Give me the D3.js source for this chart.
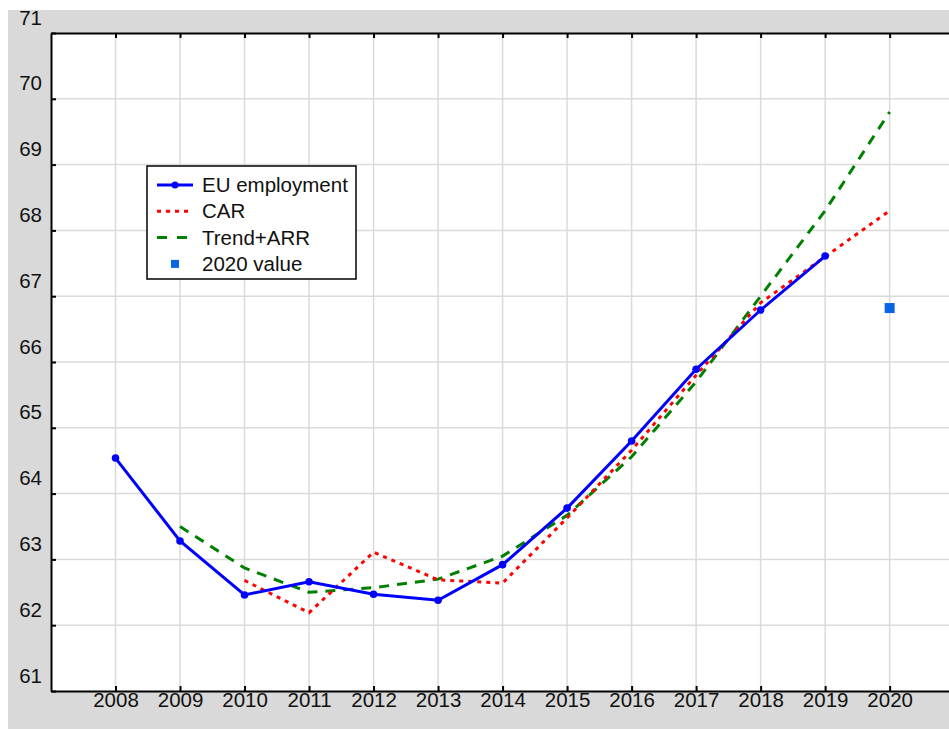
<!DOCTYPE html>
<html>
<head>
<meta charset="utf-8">
<script src="https://cdn.jsdelivr.net/npm/d3@7"></script>
<style>
  body { margin: 0; background: #ffffff; }
  text { font-family: Arial, "Liberation Sans", sans-serif; }
</style>
</head>
<body>
<svg id="chart" width="949" height="729"></svg>
<script>
// ---- data ----
const yearTicks = [2008, 2009, 2010, 2011, 2012, 2013, 2014, 2015, 2016, 2017, 2018, 2019, 2020];
const valueTicks = [61, 62, 63, 64, 65, 66, 67, 68, 69, 70, 71];
const euYears = [2008, 2009, 2010, 2011, 2012, 2013, 2014, 2015, 2016, 2017, 2018, 2019];
const euEmployment = [64.54, 63.28, 62.46, 62.66, 62.47, 62.38, 62.92, 63.78, 64.80, 65.89, 66.79, 67.61];
const carYears = [2010, 2011, 2012, 2013, 2014, 2015, 2016, 2017, 2018, 2019, 2020];
const carValues = [62.68, 62.19, 63.11, 62.69, 62.64, 63.63, 64.66, 65.80, 66.90, 67.60, 68.30];
const trendYears = [2009, 2010, 2011, 2012, 2013, 2014, 2015, 2016, 2017, 2018, 2019, 2020];
const trendValues = [63.50, 62.87, 62.50, 62.57, 62.70, 63.05, 63.67, 64.56, 65.70, 67.00, 68.30, 69.80];
const value2020Year = [2020];
const value2020 = [66.82];
const legendLabels = ["EU employment", "CAR", "Trend+ARR", "2020 value"];

// ---- layout ----
const svg = d3.select("#chart");
const L = 51, R = 949, T = 33, B = 691;
const FS = 20.5;

svg.append("rect").attr("x", 8).attr("y", 10).attr("width", 941).attr("height", 719).attr("fill", "#d9d9d9");
svg.append("rect").attr("x", L).attr("y", T).attr("width", R - L).attr("height", B - T).attr("fill", "#ffffff");

const x = d3.scaleLinear().domain([2007, 2020.92]).range([L, R]);
const y = d3.scaleLinear().domain([61, 71]).range([B, T]);

// grid
const grid = svg.append("g");
grid.selectAll("line.v").data(yearTicks).join("line")
  .attr("x1", d => x(d)).attr("x2", d => x(d)).attr("y1", T).attr("y2", B)
  .attr("stroke", "#dadada").attr("stroke-width", 1.5);
grid.selectAll("line.h").data(valueTicks.filter(v => v > 61 && v < 71)).join("line")
  .attr("x1", L).attr("x2", R).attr("y1", d => y(d)).attr("y2", d => y(d))
  .attr("stroke", "#dadada").attr("stroke-width", 1.5);

// axes
const axLeft = svg.append("g").attr("transform", `translate(${L},0)`)
  .call(d3.axisLeft(y).tickValues(valueTicks).tickFormat(d3.format("d")).tickSize(-5).tickSizeOuter(0).tickPadding(9));
axLeft.selectAll("text").attr("transform", "translate(0,-15.5)");

const axBottom = svg.append("g").attr("transform", `translate(0,${B})`)
  .call(d3.axisBottom(x).tickValues(yearTicks).tickFormat(d3.format("d")).tickSize(-5).tickSizeOuter(0).tickPadding(1));

const axTop = svg.append("g").attr("transform", `translate(0,${T})`)
  .call(d3.axisTop(x).tickValues(yearTicks).tickFormat("").tickSize(-5).tickSizeOuter(0));

[axLeft, axBottom, axTop].forEach(g => {
  g.select(".domain").attr("stroke", "#000").attr("stroke-width", 2);
  g.selectAll(".tick line").attr("stroke", "#000").attr("stroke-width", 2);
  g.selectAll("text").attr("font-size", FS).attr("fill", "#111").attr("font-family", "Arial, 'Liberation Sans', sans-serif");
});

// lines
const line = d3.line().x(d => x(d[0])).y(d => y(d[1]));

svg.append("path").datum(d3.zip(trendYears, trendValues))
  .attr("d", line).attr("fill", "none").attr("stroke", "#008000").attr("stroke-width", 3)
  .attr("stroke-dasharray", "10,8");

svg.append("path").datum(d3.zip(carYears, carValues))
  .attr("d", line).attr("fill", "none").attr("stroke", "#ff0000").attr("stroke-width", 3)
  .attr("stroke-dasharray", "4,5");

svg.append("path").datum(d3.zip(euYears, euEmployment))
  .attr("d", line).attr("fill", "none").attr("stroke", "#0000ff").attr("stroke-width", 3);
svg.selectAll("circle.eu").data(d3.zip(euYears, euEmployment)).join("circle")
  .attr("cx", d => x(d[0])).attr("cy", d => y(d[1])).attr("r", 3.8).attr("fill", "#0000ff");

svg.selectAll("rect.v2020").data(d3.zip(value2020Year, value2020)).join("rect")
  .attr("x", d => x(d[0]) - 5).attr("y", d => y(d[1]) - 5).attr("width", 10).attr("height", 10)
  .attr("fill", "#0a64e6");

// legend
const lg = svg.append("g");
lg.append("rect").attr("x", 147).attr("y", 166).attr("width", 209).attr("height", 113)
  .attr("fill", "#fff").attr("stroke", "#000").attr("stroke-width", 1.5);
const rowY = i => 185 + i * 26.3;
lg.append("line").attr("x1", 157).attr("x2", 193).attr("y1", rowY(0)).attr("y2", rowY(0))
  .attr("stroke", "#0000ff").attr("stroke-width", 3);
lg.append("circle").attr("cx", 175).attr("cy", rowY(0)).attr("r", 3.5).attr("fill", "#0000ff");
lg.append("line").attr("x1", 157).attr("x2", 193).attr("y1", rowY(1)).attr("y2", rowY(1))
  .attr("stroke", "#ff0000").attr("stroke-width", 3).attr("stroke-dasharray", "4,5");
lg.append("line").attr("x1", 157).attr("x2", 193).attr("y1", rowY(2)).attr("y2", rowY(2))
  .attr("stroke", "#008000").attr("stroke-width", 3).attr("stroke-dasharray", "10,10");
lg.append("rect").attr("x", 171).attr("y", rowY(3) - 4).attr("width", 8).attr("height", 8).attr("fill", "#0a64e6");
lg.selectAll("text").data(legendLabels).join("text")
  .attr("x", 202).attr("y", (d, i) => rowY(i)).attr("dy", "0.35em")
  .attr("font-size", FS).attr("fill", "#111").text(d => d);
</script>
</body>
</html>
